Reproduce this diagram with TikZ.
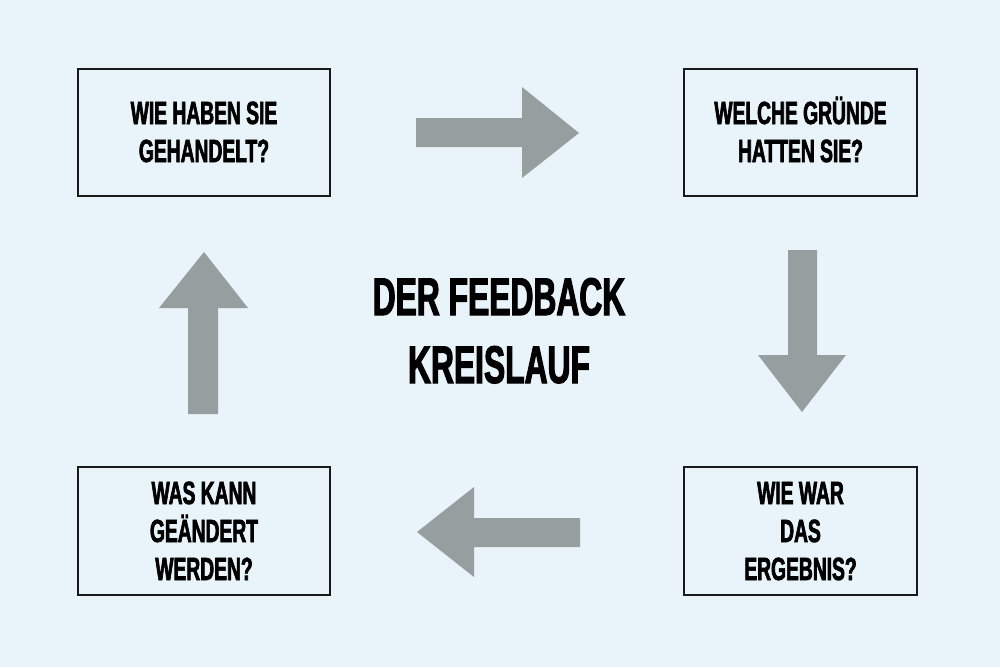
\documentclass[tikz,border=0pt]{standalone}
\usepackage{fontspec}
\newfontfamily\condfont[FakeStretch=0.6,FakeBold=2]{Liberation Sans Bold}
\definecolor{bgblue}{HTML}{E8F4F9}
\definecolor{arrowgray}{HTML}{979EA0}
\tikzset{
  qbox/.style={draw=black!90, line width=1.3pt},
  qtext/.style={anchor=base, align=center, inner sep=0pt, font=\condfont\fontsize{32.1}{38}\selectfont},
  titletext/.style={anchor=base, align=center, inner sep=0pt, font=\condfont\fontsize{53}{68}\selectfont},
  blockarrow/.style={fill=arrowgray, draw=none}
}
\begin{document}
\begin{tikzpicture}[x=1pt,y=-1pt]
\fill[bgblue] (0,0) rectangle (1000,667);
\useasboundingbox (0,0) rectangle (1000,667);
% boxes
\draw[qbox] (78,69) rectangle (330,196);
\draw[qbox] (684,69) rectangle (917,196);
\draw[qbox] (78,467) rectangle (330,595);
\draw[qbox] (684,467) rectangle (917,595);
% texts (base = baseline of last line)
\node[qtext] (tl) at (204,162) {WIE HABEN SIE\\GEHANDELT?};
\node[qtext] (tr) at (800.5,162) {WELCHE GRÜNDE\\HATTEN SIE?};
\node[qtext] (bl) at (204,580) {WAS KANN\\GEÄNDERT\\WERDEN?};
\node[qtext] (br) at (800.5,580) {WIE WAR\\DAS\\ERGEBNIS?};
\node[titletext] (title) at (499,383) {DER FEEDBACK\\KREISLAUF};
% block arrows
\fill[blockarrow] (416,118) -- (522,118) -- (522,87) -- (579,133) -- (522,178) -- (522,147) -- (416,147) -- cycle;
\fill[blockarrow] (788,250) -- (817,250) -- (817,355) -- (846,355) -- (802,412) -- (758,355) -- (788,355) -- cycle;
\fill[blockarrow] (580,518) -- (474,518) -- (474,487) -- (417,532) -- (474,577) -- (474,547) -- (580,547) -- cycle;
\fill[blockarrow] (188,414) -- (218,414) -- (218,308) -- (248,308) -- (204,252) -- (159,308) -- (188,308) -- cycle;
\end{tikzpicture}
\end{document}
